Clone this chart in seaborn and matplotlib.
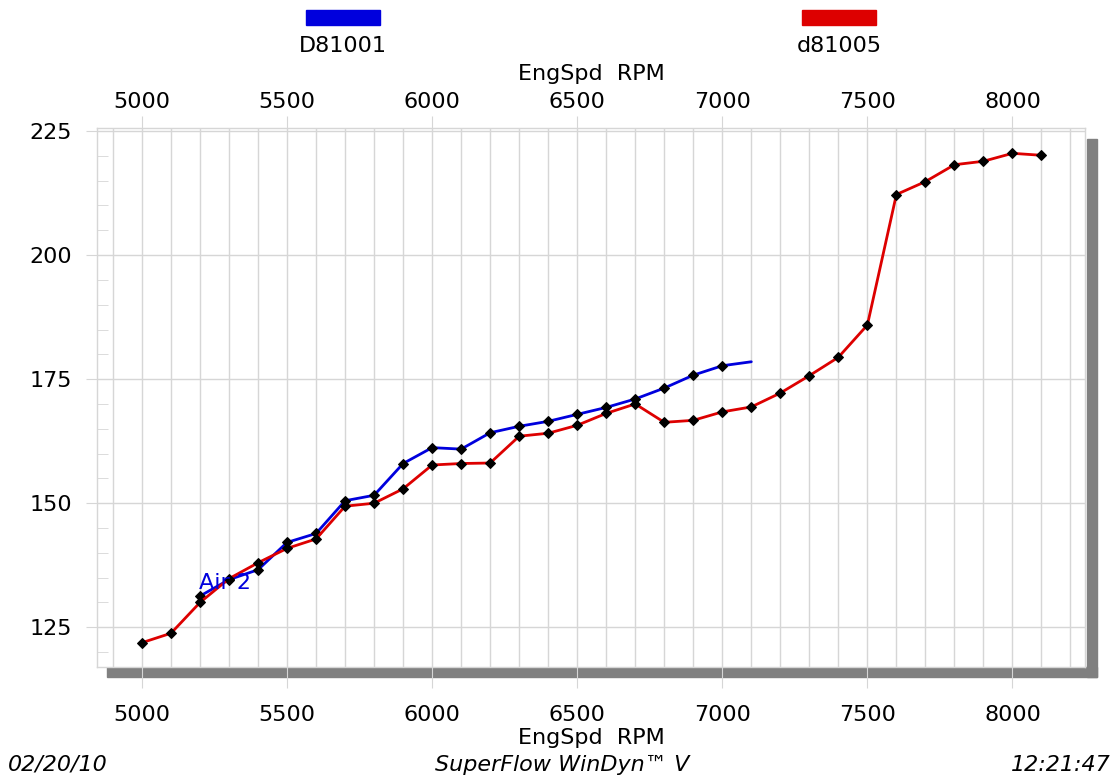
import matplotlib
matplotlib.use("Agg")
import matplotlib.pyplot as plt
import seaborn as sns
from matplotlib.patches import Rectangle
from matplotlib.ticker import FixedLocator, MultipleLocator

# data
rpm_a = [5200, 5300, 5400, 5500, 5600, 5700, 5800, 5900, 6000, 6100, 6200,
         6300, 6400, 6500, 6600, 6700, 6800, 6900, 7000, 7100]
hp_a = [131.3, 134.6, 136.6, 142.1, 143.9, 150.5, 151.6, 158.0, 161.2, 160.9, 164.2,
        165.5, 166.5, 167.9, 169.3, 171.0, 173.2, 175.8, 177.7, 178.5]

rpm_b = [5000, 5100, 5200, 5300, 5400, 5500, 5600, 5700, 5800, 5900, 6000, 6100,
         6200, 6300, 6400, 6500, 6600, 6700, 6800, 6900, 7000, 7100, 7200, 7300,
         7400, 7500, 7600, 7700, 7800, 7900, 8000, 8100]
hp_b = [121.9, 123.8, 130.0, 134.8, 138.0, 140.9, 142.8, 149.4, 150.0, 152.9, 157.7, 158.0,
        158.1, 163.5, 164.1, 165.7, 168.1, 170.0, 166.3, 166.7, 168.4, 169.4, 172.2, 175.7,
        179.4, 185.9, 212.2, 214.8, 218.2, 218.9, 220.5, 220.1]

run_names = ["D81001", "d81005"]
run_colors = ["#0000dd", "#dd0000"]
x_ticks = [5000, 5500, 6000, 6500, 7000, 7500, 8000]
y_ticks = [125, 150, 175, 200, 225]
x_label = "EngSpd  RPM"
footer = ["02/20/10", "SuperFlow WinDyn\u2122 V", "12:21:47"]

sns.set_style("white")
plt.rcParams["font.family"] = ["DejaVu Sans"]
plt.rcParams["text.color"] = "black"
plt.rcParams["xtick.labelcolor"] = "black"
plt.rcParams["ytick.labelcolor"] = "black"
plt.rcParams["axes.labelcolor"] = "black"

W, H = 1119, 778
fig = plt.figure(figsize=(W / 100, H / 100), dpi=100)


def fx(x):
    return x / W


def fy(y):
    return 1 - y / H


ax = fig.add_axes([fx(97), fy(667), fx(1085) - fx(97), fy(128) - fy(667)])

sns.lineplot(x=rpm_a, y=hp_a, ax=ax, color=run_colors[0], lw=2, marker="D",
             markersize=5, markerfacecolor="black", markeredgecolor="black",
             markevery=list(range(len(rpm_a) - 1)), zorder=3)
sns.lineplot(x=rpm_b, y=hp_b, ax=ax, color=run_colors[1], lw=2, marker="D",
             markersize=5, markerfacecolor="black", markeredgecolor="black", zorder=3)

ax.set_xlim(4845, 8250)
ax.set_ylim(117, 225.6)
ax.xaxis.set_major_locator(FixedLocator(x_ticks))
ax.xaxis.set_minor_locator(MultipleLocator(100))
ax.yaxis.set_major_locator(FixedLocator(y_ticks))
ax.yaxis.set_minor_locator(MultipleLocator(5))

grid_c = "#d6d6d6"
ax.grid(True, which="minor", axis="x", color=grid_c, lw=1)
ax.grid(True, which="major", axis="x", color=grid_c, lw=1)
ax.grid(True, which="major", axis="y", color=grid_c, lw=1)
for s in ax.spines.values():
    s.set_color(grid_c)
    s.set_linewidth(1)

ax.tick_params(axis="x", which="major", direction="out", length=15, color=grid_c,
               labelsize=16, pad=12.5, bottom=True)
ax.tick_params(axis="x", which="minor", length=0)
ax.tick_params(axis="y", which="major", direction="out", length=8, color=grid_c,
               labelsize=16, pad=10, left=True)
ax.tick_params(axis="y", which="minor", direction="in", length=8, color=grid_c, left=True)
ax.set_xlabel(x_label, fontsize=16, labelpad=2)
ax.set_ylabel("")

top = ax.secondary_xaxis("top")
top.xaxis.set_major_locator(FixedLocator(x_ticks))
top.tick_params(axis="x", direction="out", length=8.5, color=grid_c, labelsize=16, pad=3)
top.set_xlabel(x_label, fontsize=16, labelpad=8.5)
for s in top.spines.values():
    s.set_visible(False)

ax.text(5197, 134, "Air 2", color=run_colors[0], fontsize=16, va="center", ha="left",
        zorder=4)

# drop shadow below and right of the plot frame
shadow = "#808080"
fig.add_artist(Rectangle((fx(107), fy(677)), fx(1097) - fx(107), fy(667) - fy(677),
                         transform=fig.transFigure, color=shadow, zorder=-1))
fig.add_artist(Rectangle((fx(1087), fy(677)), fx(1097) - fx(1087), fy(139) - fy(677),
                         transform=fig.transFigure, color=shadow, zorder=-1))

# legend bars across the top
for name, c, cx in zip(run_names, run_colors, [343, 839]):
    fig.add_artist(Rectangle((fx(cx - 37), fy(25)), fx(74), fy(10) - fy(25),
                             transform=fig.transFigure, color=c))
    fig.text(fx(cx), fy(46), name, fontsize=16, ha="center", va="center")

fig.text(fx(8), fy(765), footer[0], fontsize=16, style="italic", ha="left", va="center")
fig.text(fx(562), fy(765), footer[1], fontsize=16, style="italic", ha="center", va="center")
fig.text(fx(1111), fy(765), footer[2], fontsize=16, style="italic", ha="right", va="center")

fig.savefig("out.png", dpi=100)
